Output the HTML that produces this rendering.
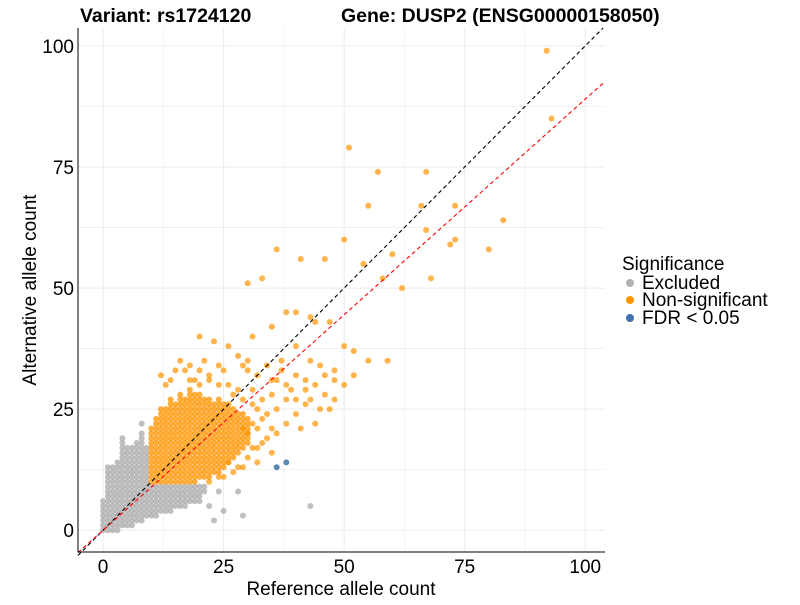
<!DOCTYPE html>
<html><head><meta charset="utf-8"><style>
body{margin:0;background:#fff;}
svg{font-family:"Liberation Sans",Arial,sans-serif;}
</style></head><body>
<svg id="chart" width="800" height="600">
<text x="80" y="22" font-size="19.5" font-weight="bold">Variant: rs1724120</text>
<text x="341" y="22" font-size="19.5" font-weight="bold">Gene: DUSP2 (ENSG00000158050)</text>
<g id="grid"></g>
<g id="pts"></g>
<g id="lines"></g>
<g id="axes"></g>
<text x="341" y="595" font-size="19" text-anchor="middle">Reference allele count</text>
<text transform="translate(36,290) rotate(-90)" font-size="19" text-anchor="middle">Alternative allele count</text>
<g>
<text x="622" y="270" font-size="19">Significance</text>
<circle cx="630" cy="283" r="4" fill="#b3b3b3"/>
<text x="642" y="289" font-size="19">Excluded</text>
<circle cx="630" cy="300" r="4" fill="#ff9400"/>
<text x="642" y="306" font-size="19">Non-significant</text>
<circle cx="630" cy="318" r="4" fill="#3f72af"/>
<text x="642" y="324" font-size="19">FDR &lt; 0.05</text>
</g>
</svg>
<script>
const xTicks=[0,25,50,75,100];
const yTicks=[0,25,50,75,100];
const redSlope=0.89;
// [ref, altMin, altMax] dense runs
const excludedRuns=[[0,0,6],[1,0,13],[2,0,13],[3,0,14],[4,1,19],[5,1,17],[6,1,17],[7,2,18],[8,2,20],[9,3,17],[10,3,9],[11,3,9],[12,4,9],[13,4,9],[14,4,9],[15,5,9],[16,5,9],[17,5,9],[18,6,9],[19,6,9],[20,7,9],[21,8,9]];
const excludedPoints=[[8,22],[23,2],[29,3],[43,5],[25,4],[22,5],[24,8],[28,8],[20,6]];
const nonsigRuns=[[10,10,21],[11,10,23],[12,10,25],[13,10,25],[14,10,27],[15,10,26],[16,10,28],[17,10,27],[18,10,29],[19,10,28],[20,11,28],[21,11,27],[22,11,27],[23,12,26],[24,12,27],[25,13,26],[26,14,26],[27,15,25],[28,16,24],[29,17,24],[30,18,23]];
const nonsigPoints=[[92,99],[93,85],[51,79],[57,74],[67,74],[66,67],[73,67],[55,67],[83,64],[67,62],[73,60],[50,60],[72,59],[80,58],[36,58],[46,56],[60,57],[54,55],[58,52],[33,52],[30,51],[41,56],[62,50],[68,52],[38,45],[40,45],[43,44],[47,43],[35,42],[44,43],[50,38],[52,37],[55,35],[59,35],[52,32],[48,31],[45,34],[40,38],[31,40],[20,40],[16,35],[12,32],[17,33],[23,39],[26,38],[28,36],[29,34],[24,34],[30,35],[37,35],[40,32],[42,31],[43,35],[42,29],[44,30],[46,32],[48,33],[36,31],[38,30],[30,33],[32,32],[34,34],[38,22],[40,24],[45,25],[41,21],[43,27],[36,20],[33,18],[30,15],[27,12],[28,13],[26,14],[32,14],[24,11],[22,10],[35,16],[31,17],[29,13],[25,11],[33,23],[38,27],[36,25],[40,27],[42,26],[44,22],[47,25],[48,27],[46,28],[39,29],[37,33],[35,31],[50,30],[15,33],[18,34],[19,31],[14,31],[13,30],[21,35],[22,32],[25,33],[20,33],[31,26],[32,21],[33,27],[34,19],[31,22],[32,25],[34,24],[35,28],[29,27],[28,29],[27,28],[31,29],[26,30],[24,30],[22,31],[20,30],[18,31],[30,20],[32,17],[29,21],[35,21]];
const sigPoints=[[36,13],[38,14]];

const L=78,R=605,T=28,B=552;
const xMin=-5.2,xMax=104.1,yMin=-4.5,yMax=103.7;
const sx=v=>L+(v-xMin)/(xMax-xMin)*(R-L);
const sy=v=>B-(v-yMin)/(yMax-yMin)*(B-T);
const NS="http://www.w3.org/2000/svg";
function mk(tag,parent,attrs){const e=document.createElementNS(NS,tag);for(const k in attrs)e.setAttribute(k,attrs[k]);parent.appendChild(e);return e;}
const grid=document.getElementById('grid'),lines=document.getElementById('lines'),pts=document.getElementById('pts'),axes=document.getElementById('axes');
for(let v=-12.5;v<=112.5;v+=12.5){
  if(v>=xMin&&v<=xMax){const g=mk('line',grid,{x1:sx(v),x2:sx(v),y1:T,y2:B,stroke:'#ebebeb','stroke-width':(v%25===0)?1:0.6});
  }
  if(v>=yMin&&v<=yMax){const g=mk('line',grid,{x1:L,x2:R,y1:sy(v),y2:sy(v),stroke:'#ebebeb','stroke-width':(v%25===0)?1:0.6});
  }
}
function dot(x,y,fill,op,name){const c=mk('circle',pts,{cx:sx(x),cy:sy(y),r:3,fill:fill,'fill-opacity':op});

}
excludedRuns.forEach(r=>{for(let y=r[1];y<=r[2];y++)dot(r[0],y,'#aaaaaa',0.75,'excluded-point');});
excludedPoints.forEach(p=>dot(p[0],p[1],'#aaaaaa',0.75,'excluded-point'));
nonsigRuns.forEach(r=>{for(let y=r[1];y<=r[2];y++)dot(r[0],y,'#ff9400',0.75,'nonsig-point');});
nonsigPoints.forEach(p=>dot(p[0],p[1],'#ff9400',0.7,'nonsig-point'));
sigPoints.forEach(p=>dot(p[0],p[1],'#3f72af',0.85,'fdr-point'));
const l1=mk('line',lines,{x1:sx(xMin),y1:sy(xMin),x2:sx(yMax),y2:sy(yMax),stroke:'#000','stroke-dasharray':'4,3','stroke-width':1.1});

const l2=mk('line',lines,{x1:sx(xMin),y1:sy(xMin*redSlope),x2:sx(xMax),y2:sy(xMax*redSlope),stroke:'#ff0000','stroke-dasharray':'4,3','stroke-width':1.1});

const ax=mk('line',axes,{x1:L,x2:L,y1:T,y2:B,stroke:'#000','stroke-width':1});

const bx=mk('line',axes,{x1:L,x2:R,y1:B,y2:B,stroke:'#000','stroke-width':1});

xTicks.forEach(v=>{const t=mk('text',axes,{x:sx(v),y:B+21,'font-size':19,'text-anchor':'middle',fill:'#000'});t.textContent=v;
});
yTicks.forEach(v=>{const t=mk('text',axes,{x:L-4,y:sy(v)+7,'font-size':19,'text-anchor':'end',fill:'#000'});t.textContent=v;
});
</script>
</body></html>
